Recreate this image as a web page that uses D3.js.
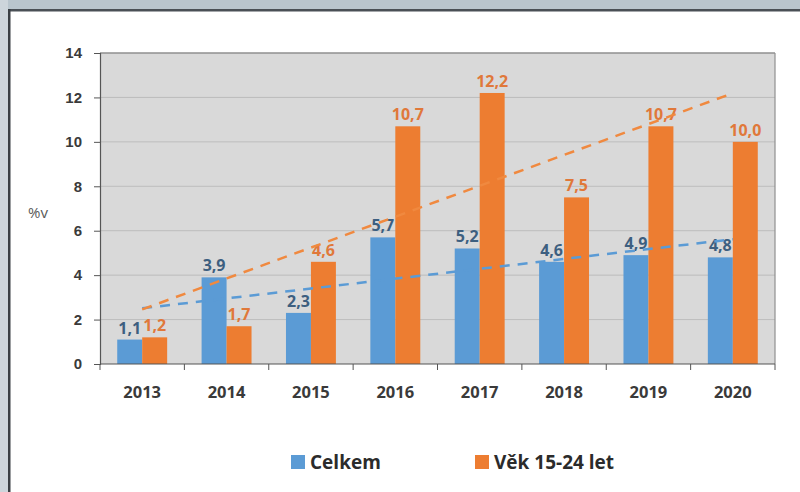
<!DOCTYPE html>
<html>
<head>
<meta charset="utf-8">
<script src="https://cdn.jsdelivr.net/npm/d3@7"></script>
<style>
  body { margin: 0; background: #ffffff; }
  svg { display: block; font-family: "Open Sans", "Noto Sans", sans-serif; }
  .tickLabel { font-size: 15px; font-weight: 700; fill: #3a3a3a; }
  .yearLabel { font-size: 16.5px; font-weight: 700; fill: #3a3a3a; }
  .barLabel { font-size: 16px; font-weight: 700; }
  .legendText { font-size: 19px; font-weight: 700; fill: #2b2b2b; }
</style>
</head>
<body>
<div id="chart"></div>
<script>
var years = ["2013", "2014", "2015", "2016", "2017", "2018", "2019", "2020"];
var celkem = [1.1, 3.9, 2.3, 5.7, 5.2, 4.6, 4.9, 4.8];
var vek = [1.2, 1.7, 4.6, 10.7, 12.2, 7.5, 10.7, 10.0];
var yTicks = [0, 2, 4, 6, 8, 10, 12, 14];
var seriesNames = ["Celkem", "Věk 15-24 let"];

var width = 800, height = 492;
var plot = {left: 100, top: 53, right: 775, bottom: 364};
var colors = {blue: "#5b9bd5", orange: "#ed7d31", blueText: "#3d5f80", orangeText: "#e0783a"};

var svg = d3.select("#chart").append("svg")
  .attr("width", width)
  .attr("height", height);

// outer frame like the screenshot
svg.append("rect").attr("x", 0).attr("y", 0).attr("width", width).attr("height", 10).attr("fill", "#b9c5cd");
svg.append("rect").attr("x", 0).attr("y", 0).attr("width", 8).attr("height", height).attr("fill", "#cdd5db");
svg.append("rect").attr("x", 8).attr("y", 9).attr("width", width - 8).attr("height", 2.5).attr("fill", "#4a5056");
svg.append("rect").attr("x", 8).attr("y", 9).attr("width", 2.5).attr("height", height).attr("fill", "#3a3f44");

var x = d3.scaleBand()
  .domain(years)
  .range([plot.left, plot.right]);

var xInner = d3.scaleBand()
  .domain([0, 1])
  .range([0, x.bandwidth()])
  .paddingInner(0)
  .paddingOuter(0.69);

var y = d3.scaleLinear()
  .domain([0, 14])
  .range([plot.bottom, plot.top]);

// plot background
svg.append("rect")
  .attr("x", plot.left).attr("y", plot.top)
  .attr("width", plot.right - plot.left).attr("height", plot.bottom - plot.top)
  .attr("fill", "#d9d9d9");

// gridlines
svg.append("g").selectAll("line")
  .data(yTicks.filter(function (d) { return d > 0; }))
  .join("line")
  .attr("x1", plot.left).attr("x2", plot.right)
  .attr("y1", function (d) { return y(d); })
  .attr("y2", function (d) { return y(d); })
  .attr("stroke", function (d) { return d === 14 ? "#8f8f8f" : "#bdbdbd"; })
  .attr("stroke-width", function (d) { return d === 14 ? 1.5 : 1; });

svg.append("line")
  .attr("x1", plot.right).attr("x2", plot.right)
  .attr("y1", plot.top).attr("y2", plot.bottom)
  .attr("stroke", "#8f8f8f").attr("stroke-width", 1.2);

// bars
var groups = svg.append("g").selectAll("g")
  .data(years)
  .join("g")
  .attr("transform", function (d) { return "translate(" + x(d) + ",0)"; });

var seriesData = [celkem, vek];
var barColors = [colors.blue, colors.orange];
var textColors = [colors.blueText, colors.orangeText];

[0, 1].forEach(function (s) {
  groups.append("rect")
    .attr("x", xInner(s))
    .attr("width", xInner.bandwidth())
    .attr("y", function (d, i) { return y(seriesData[s][i]); })
    .attr("height", function (d, i) { return y(0) - y(seriesData[s][i]); })
    .attr("fill", barColors[s]);
});

// linear trend lines
function trend(values) {
  var n = values.length;
  var mx = d3.mean(values, function (v, i) { return i; });
  var my = d3.mean(values);
  var sxy = d3.sum(values, function (v, i) { return (i - mx) * (v - my); });
  var sxx = d3.sum(values, function (v, i) { return (i - mx) * (i - mx); });
  var slope = sxy / sxx;
  var b = my - slope * mx;
  return [0, n - 1].map(function (i) { return {i: i, v: b + slope * i}; });
}

var line = d3.line()
  .x(function (d) { return x(years[d.i]) + x.bandwidth() / 2; })
  .y(function (d) { return y(d.v); });

svg.append("path")
  .datum(trend(celkem))
  .attr("d", line)
  .attr("fill", "none")
  .attr("stroke", "#5b9bd5")
  .attr("stroke-width", 2.5)
  .attr("stroke-dasharray", "10,8");

svg.append("path")
  .datum(trend(vek))
  .attr("d", line)
  .attr("fill", "none")
  .attr("stroke", "#f0893f")
  .attr("stroke-width", 2.5)
  .attr("stroke-dasharray", "10,8");

// data labels
var fmt = function (v) { return v.toFixed(1).replace(".", ","); };
[0, 1].forEach(function (s) {
  groups.append("text")
    .attr("class", "barLabel")
    .attr("x", xInner(s) + xInner.bandwidth() / 2)
    .attr("y", function (d, i) { return y(seriesData[s][i]) - 6; })
    .attr("text-anchor", "middle")
    .attr("fill", textColors[s])
    .text(function (d, i) { return fmt(seriesData[s][i]); });
});

// axes
var yAxis = d3.axisLeft(y).tickValues(yTicks).tickSize(6).tickPadding(12);
var gy = svg.append("g")
  .attr("transform", "translate(" + plot.left + ",0)")
  .call(yAxis);
gy.select(".domain").attr("stroke", "#555").attr("stroke-width", 1.2);
gy.selectAll(".tick line").attr("stroke", "#555");
gy.selectAll(".tick text").attr("class", "tickLabel").attr("font-family", null).attr("font-size", null);

var boundaries = d3.range(years.length + 1).map(function (i) { return plot.left + i * x.step(); });
svg.append("line")
  .attr("x1", plot.left).attr("x2", plot.right)
  .attr("y1", y(0)).attr("y2", y(0))
  .attr("stroke", "#555").attr("stroke-width", 1.2);
svg.append("g").selectAll("line")
  .data(boundaries)
  .join("line")
  .attr("x1", function (d) { return d; }).attr("x2", function (d) { return d; })
  .attr("y1", y(0)).attr("y2", y(0) + 6)
  .attr("stroke", "#555");

svg.append("g").selectAll("text")
  .data(years)
  .join("text")
  .attr("class", "yearLabel")
  .attr("x", function (d) { return x(d) + x.bandwidth() / 2; })
  .attr("y", 398)
  .attr("text-anchor", "middle")
  .text(function (d) { return d; });

svg.append("text")
  .attr("x", 28).attr("y", 218)
  .attr("font-size", 15)
  .attr("fill", "#595959")
  .text("%v");

// legend
var legendX = [291, 475];
var legend = svg.append("g").selectAll("g")
  .data(seriesNames)
  .join("g")
  .attr("transform", function (d, i) { return "translate(" + legendX[i] + ",455)"; });
legend.append("rect")
  .attr("width", 14).attr("height", 14)
  .attr("fill", function (d, i) { return barColors[i]; });
legend.append("text")
  .attr("class", "legendText")
  .attr("x", 19).attr("y", 14)
  .text(function (d) { return d; });
</script>
</body>
</html>
